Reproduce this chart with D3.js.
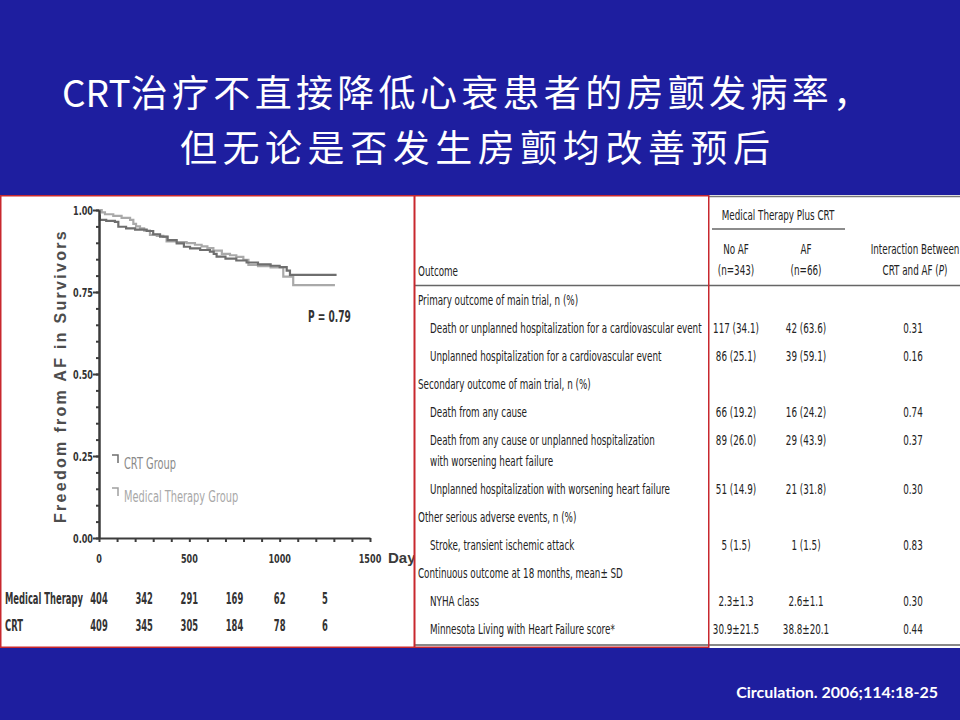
<!DOCTYPE html>
<html><head><meta charset="utf-8">
<script src="https://cdn.jsdelivr.net/npm/d3@7"></script>
<style>
html,body{margin:0;padding:0;background:#1e1e9f;}
svg{display:block;}
</style></head><body>
<svg id="c" width="960" height="720"></svg>
<script>
// ---------------- data ----------------
const titleLines = ["CRT治疗不直接降低心衰患者的房颤发病率，", "但无论是否发生房颤均改善预后"];
const citation = "Circulation. 2006;114:18-25";

// Kaplan-Meier step points (days, freedom from AF)
const crtDays = [0, 5, 40, 88, 107, 150, 200, 264, 300, 338, 380, 430, 470, 504, 560, 614, 635, 651, 700, 760, 817, 880, 950, 1000, 1039, 1057, 1315];
const crtSurv = [0.983, 0.970, 0.967, 0.964, 0.949, 0.944, 0.940, 0.936, 0.926, 0.919, 0.908, 0.898, 0.888, 0.883, 0.878, 0.873, 0.866, 0.858, 0.852, 0.846, 0.840, 0.834, 0.830, 0.826, 0.815, 0.802, 0.802];
const medDays = [0, 15, 33, 79, 125, 172, 190, 205, 227, 250, 282, 320, 356, 374, 430, 485, 531, 568, 600, 633, 680, 725, 760, 799, 827, 880, 950, 1020, 1075, 1306];
const medSurv = [1.000, 0.993, 0.987, 0.982, 0.976, 0.970, 0.958, 0.950, 0.944, 0.937, 0.924, 0.921, 0.918, 0.904, 0.902, 0.899, 0.894, 0.889, 0.884, 0.876, 0.866, 0.862, 0.857, 0.848, 0.833, 0.829, 0.825, 0.797, 0.771, 0.771];

const yTickValues = [0, 0.25, 0.5, 0.75, 1.0];
const xTickValues = [0, 500, 1000, 1500];
const yAxisTitle = "Freedom from AF in Survivors";
const xAxisTitle = "Days";
const pValueText = "P = 0.79";
const seriesNames = ["CRT Group", "Medical Therapy Group"];

const riskDays = [0, 250, 500, 750, 1000, 1250];
const riskLabels = ["Medical Therapy", "CRT"];
const riskMedical = [404, 342, 291, 169, 62, 5];
const riskCRT = [409, 345, 305, 184, 78, 6];

const tableGroupHeader = "Medical Therapy Plus CRT";
const outcomeHeader = "Outcome";
const columnHeaders = [["No AF", "(n=343)"], ["AF", "(n=66)"], ["Interaction Between", "CRT and AF ("]];
const outcomeRows = [
  ["Primary outcome of main trial, n (%)"],
  ["Death or unplanned hospitalization for a cardiovascular event"],
  ["Unplanned hospitalization for a cardiovascular event"],
  ["Secondary outcome of main trial, n (%)"],
  ["Death from any cause"],
  ["Death from any cause or unplanned hospitalization", "with worsening heart failure"],
  ["Unplanned hospitalization with worsening heart failure"],
  ["Other serious adverse events, n (%)"],
  ["Stroke, transient ischemic attack"],
  ["Continuous outcome at 18 months, mean\u00b1 SD"],
  ["NYHA class"],
  ["Minnesota Living with Heart Failure score*"]
];
const rowIsSection = [true, false, false, true, false, false, false, true, false, true, false, false];
const noAFValues = ["", "117 (34.1)", "86 (25.1)", "", "66 (19.2)", "89 (26.0)", "51 (14.9)", "", "5 (1.5)", "", "2.3\u00b11.3", "30.9\u00b121.5"];
const afValues = ["", "42 (63.6)", "39 (59.1)", "", "16 (24.2)", "29 (43.9)", "21 (31.8)", "", "1 (1.5)", "", "2.6\u00b11.1", "38.8\u00b120.1"];
const pValues = ["", "0.31", "0.16", "", "0.74", "0.37", "0.30", "", "0.83", "", "0.30", "0.44"];

// ---------------- drawing ----------------
const svg = d3.select("#c");
const NARROW = "'Liberation Sans Narrow','Arial Narrow','DejaVu Sans Condensed','Liberation Sans',Arial,sans-serif";
const SANS = "'Liberation Sans',Arial,'DejaVu Sans',sans-serif";
const CJK = "'Noto Sans CJK SC','Noto Sans CJK TC',sans-serif";

function measure(str, size, weight, family) {
  const t = svg.append("text").attr("font-size", size).attr("font-weight", weight)
    .attr("font-family", family).text(str);
  const w = t.node().getComputedTextLength();
  t.remove();
  return w;
}
function label(g, x, y, str, o) {
  return g.append("text")
    .attr("transform", `translate(${x},${y}) scale(${o.sx || 1},1)`)
    .attr("text-anchor", o.anchor || "start")
    .attr("font-size", o.size)
    .attr("font-weight", o.weight || "normal")
    .attr("font-family", o.family || NARROW)
    .attr("fill", o.fill || "#222")
    .text(str);
}

// background
svg.append("rect").attr("width", 960).attr("height", 720).attr("fill", "#1e1e9f");
svg.append("rect").attr("x", 0).attr("y", 195).attr("width", 960).attr("height", 453).attr("fill", "#ffffff");

// title: Latin prefix kept tight, CJK part spaced to span the slide width
const titleSize = 37;
const titleFit = [{x: 62, y: 107, w: 808}, {x: 180, y: 162, w: 590}];
titleLines.forEach((str, i) => {
  const m = str.match(/^([A-Za-z]*)(.*)$/);
  const latin = m[1], rest = m[2];
  const natural = measure(str, titleSize, "normal", CJK);
  const n = Array.from(rest).length;
  const ls = (titleFit[i].w - natural) / (n - 1);
  const t = svg.append("text").attr("x", titleFit[i].x).attr("y", titleFit[i].y)
    .attr("font-family", CJK).attr("font-size", titleSize).attr("fill", "#fff");
  if (latin) t.append("tspan").text(latin);
  t.append("tspan").attr("letter-spacing", ls).text(rest);
});

// citation
svg.append("text").attr("x", 938).attr("y", 698).attr("text-anchor", "end")
  .attr("font-family", "Lato,'Open Sans',sans-serif").attr("font-weight", "bold").attr("font-size", 16)
  .attr("fill", "#fff").text(citation);

// ---------- left: KM chart ----------
svg.append("clipPath").attr("id", "leftclip").append("rect")
  .attr("x", 0).attr("y", 195).attr("width", 414).attr("height", 453);
const L = svg.append("g").attr("clip-path", "url(#leftclip)");

const x = d3.scaleLinear().domain([0, 1500]).range([99, 370]);
const y = d3.scaleLinear().domain([0, 1]).range([538, 210]);

const line = d3.line().curve(d3.curveStepAfter).x(d => x(d[0])).y(d => y(d[1]));
const medPts = d3.zip(medDays, medSurv);
const crtPts = d3.zip(crtDays, crtSurv);
L.append("path").attr("d", line(medPts)).attr("fill", "none").attr("stroke", "#a9a9a9").attr("stroke-width", 2.2);
L.append("path").attr("d", line(crtPts)).attr("fill", "none").attr("stroke", "#6e6e6e").attr("stroke-width", 2.2);

// axes
const axisColor = "#3c3c3c";
const yMinor = L.append("g").attr("transform", `translate(${x(0)},0)`)
  .call(d3.axisLeft(y).tickValues(d3.range(0, 1.0001, 0.05)).tickSize(3).tickSizeOuter(0).tickFormat(""));
const yMajor = L.append("g").attr("transform", `translate(${x(0)},0)`)
  .call(d3.axisLeft(y).tickValues(yTickValues).tickSize(6).tickSizeOuter(0).tickFormat(""));
const xMinor = L.append("g").attr("transform", `translate(0,${y(0)})`)
  .call(d3.axisBottom(x).tickValues(d3.range(0, 1501, 100)).tickSize(4).tickSizeOuter(0).tickFormat(""));
[yMinor, yMajor, xMinor].forEach(a => {
  a.selectAll("path,line").attr("stroke", axisColor).attr("stroke-width", 2);
});

const sxTick = 20 / measure("1.00", 13, "bold", NARROW);
yTickValues.forEach(v => {
  label(L, 93, y(v) + 4.5, d3.format(".2f")(v), {size: 13, weight: "bold", anchor: "end", sx: sxTick, fill: "#333"});
});
xTickValues.forEach(v => {
  label(L, x(v), 563, String(v), {size: 13, weight: "bold", anchor: "middle", sx: sxTick, fill: "#333"});
});
L.append("text").attr("x", 388).attr("y", 563).attr("font-family", SANS).attr("font-weight", "bold")
  .attr("font-size", 15).attr("fill", "#3a3a3a").text(xAxisTitle);

L.append("text").attr("transform", "translate(66,376) rotate(-90)").attr("text-anchor", "middle")
  .attr("font-family", SANS).attr("font-weight", "bold").attr("font-size", 16)
  .attr("letter-spacing", 2.3).attr("fill", "#4d4d4d").text(yAxisTitle);

// P value
const sxBold = 78 / measure(riskLabels[0], 15, "bold", NARROW);
label(L, 308, 322, pValueText, {size: 15, weight: "bold", sx: sxBold * 1.08, fill: "#333"});

// legend
const sxLeg = 52 / measure(seriesNames[0], 15, "normal", NARROW);
const legColors = [["#6e6e6e", "#8a8a8a"], ["#a0a0a0", "#a8a8a8"]];
const legY = [455, 488];
seriesNames.forEach((nm, i) => {
  L.append("path").attr("d", `M112,${legY[i]}H118V${legY[i] + 8}`).attr("fill", "none")
    .attr("stroke", legColors[i][0]).attr("stroke-width", 1.5);
  label(L, 124, legY[i] + 14, nm, {size: 15, sx: sxLeg, fill: legColors[i][1]});
});

// number at risk
const riskY = [604, 631];
[riskMedical, riskCRT].forEach((arr, r) => {
  label(L, 5, riskY[r], riskLabels[r], {size: 15, weight: "bold", sx: sxBold, fill: "#333"});
  arr.forEach((n, i) => {
    label(L, x(riskDays[i]), riskY[r], String(n), {size: 15, weight: "bold", anchor: "middle", sx: sxBold, fill: "#333"});
  });
});

// panel border
svg.append("rect").attr("x", 0.75).attr("y", 195.75).attr("width", 413.5).attr("height", 451.5)
  .attr("fill", "none").attr("stroke", "#c8282e").attr("stroke-width", 1.5);

// ---------- right: table ----------
const T = svg.append("g");
const sxTable = 272 / measure(outcomeRows[1][0], 14, "normal", NARROW);
const tOpt = (anchor) => ({size: 14, sx: sxTable, anchor: anchor || "start", fill: "#222"});
const colX = [736, 806, 913];

T.append("line").attr("x1", 709).attr("x2", 960).attr("y1", 196.5).attr("y2", 196.5)
  .attr("stroke", "#777").attr("stroke-width", 1.5);
label(T, 778, 220, tableGroupHeader, tOpt("middle"));
T.append("line").attr("x1", 712).attr("x2", 845).attr("y1", 229).attr("y2", 229)
  .attr("stroke", "#666").attr("stroke-width", 1.5);
columnHeaders.forEach((h, i) => {
  const cx = i === 2 ? 915 : colX[i];
  label(T, cx, 254, h[0], tOpt("middle"));
  const t = label(T, cx, 275, h[1], tOpt("middle"));
  if (i === 2) {
    t.append("tspan").attr("font-style", "italic").text("P");
    t.append("tspan").text(")");
  }
});
label(T, 418, 276, outcomeHeader, tOpt());
T.append("line").attr("x1", 414).attr("x2", 960).attr("y1", 285.5).attr("y2", 285.5)
  .attr("stroke", "#666").attr("stroke-width", 1.5);

let extra = 0;
outcomeRows.forEach((lines, i) => {
  const cy = 300 + 28 * i + 21 * extra;
  const tx = rowIsSection[i] ? 418 : 430;
  lines.forEach((ln, k) => label(T, tx, cy + 5 + 21 * k, ln, tOpt()));
  label(T, colX[0], cy + 5, noAFValues[i], tOpt("middle"));
  label(T, colX[1], cy + 5, afValues[i], tOpt("middle"));
  label(T, colX[2], cy + 5, pValues[i], tOpt("middle"));
  extra += lines.length - 1;
});

T.append("line").attr("x1", 414).attr("x2", 960).attr("y1", 645).attr("y2", 645)
  .attr("stroke", "#888").attr("stroke-width", 2);
T.append("rect").attr("x", 414.75).attr("y", 195.75).attr("width", 294).attr("height", 451.5)
  .attr("fill", "none").attr("stroke", "#c8282e").attr("stroke-width", 1.5);
</script>
</body></html>
